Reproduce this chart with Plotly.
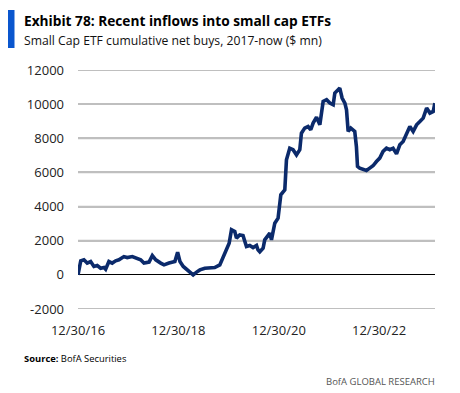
import plotly.graph_objects as go

dates = [
    "2016-12-30", "2017-01-19", "2017-02-11", "2017-03-07", "2017-04-01", "2017-04-25",
    "2017-05-19", "2017-06-13", "2017-07-07", "2017-07-19", "2017-08-12", "2017-09-05",
    "2017-09-30", "2017-10-24", "2017-11-29", "2017-12-23", "2018-01-29", "2018-03-06",
    "2018-03-31", "2018-04-24", "2018-05-31", "2018-06-24", "2018-07-19", "2018-08-24",
    "2018-09-17", "2018-10-23", "2018-12-05", "2018-12-25", "2019-01-11", "2019-02-04",
    "2019-03-12", "2019-04-17", "2019-05-12", "2019-06-05", "2019-07-11", "2019-08-16",
    "2019-09-21", "2019-10-28", "2019-11-22", "2019-12-16", "2020-01-04", "2020-01-21",
    "2020-02-14", "2020-02-26", "2020-03-21", "2020-04-14", "2020-05-09", "2020-06-02",
    "2020-06-26", "2020-07-21", "2020-08-01", "2020-08-14", "2020-09-07", "2020-09-19",
    "2020-10-26", "2020-11-07", "2020-12-01", "2020-12-25", "2021-01-14", "2021-02-12",
    "2021-02-24", "2021-03-20", "2021-04-13", "2021-05-08", "2021-06-01", "2021-06-13",
    "2021-07-07", "2021-07-31", "2021-08-20", "2021-09-06", "2021-10-01", "2021-10-25",
    "2021-11-18", "2021-12-13", "2022-01-06", "2022-01-30", "2022-02-11", "2022-03-07",
    "2022-03-19", "2022-04-05", "2022-04-25", "2022-05-07", "2022-05-19", "2022-06-07",
    "2022-07-06", "2022-07-18", "2022-07-26", "2022-08-11", "2022-09-04", "2022-09-29",
    "2022-10-23", "2022-11-16", "2022-12-11", "2023-01-04", "2023-01-28", "2023-02-22",
    "2023-03-18", "2023-04-11", "2023-05-06", "2023-05-30", "2023-06-23", "2023-07-18",
    "2023-08-11", "2023-09-04", "2023-09-29", "2023-10-23", "2023-11-16", "2023-12-11",
    "2024-01-04", "2024-01-28", "2024-02-09",
]
net_buys = [
    0, 820, 880, 690, 780, 490,
    545, 390, 430, 330, 780, 690,
    820, 880, 1070, 1015, 1070, 940,
    880, 690, 745, 1130, 880, 690,
    585, 690, 780, 1330, 780, 490,
    235, 0, 160, 290, 390, 430,
    430, 585, 1070, 1560, 1850, 2640,
    2540, 2150, 2340, 2300, 1660, 1720,
    1600, 1720, 1465, 1350, 1560, 2050,
    2440, 2050, 3030, 3320, 4690, 4980,
    6740, 7420, 7330, 7030, 7330, 8300,
    8600, 8690, 8500, 8890, 9240, 8790,
    10160, 10260, 10060, 9960, 10650, 10840,
    10940, 10360, 10060, 9670, 8400, 8600,
    8400, 7520, 6350, 6250, 6190, 6110,
    6250, 6390, 6640, 6840, 7230, 7420,
    7330, 7420, 7090, 7620, 7810, 8300,
    8690, 8400, 8790, 8980, 9180, 9770,
    9475, 9570, 10060,
]

x_tick_vals = ["2016-12-30", "2018-12-30", "2020-12-30", "2022-12-30"]
x_tick_text = ["12/30/16", "12/30/18", "12/30/20", "12/30/22"]
y_tick_vals = [-2000, 0, 2000, 4000, 6000, 8000, 10000, 12000]
y_tick_text = ["-2000", "0", "2000", "4000", "6000", "8000", "10000", "12000"]

FONT = "Open Sans"
PW, PH = 357, 239  # plot area size in px
GRID = "#BFBFBF"

shapes = [
    dict(type="line", xref="paper", yref="y", x0=0, x1=1, y0=v, y1=v,
         line=dict(color=GRID, width=1.8), layer="below")
    for v in y_tick_vals if v != 0
]
shapes.append(
    dict(type="rect", xref="paper", yref="paper",
         x0=-70.5/PW, x1=-63.5/PW, y0=1 + 60/PH, y1=1 + 22/PH,
         fillcolor="#0A56CE", line=dict(width=0), layer="above")
)

fig = go.Figure()
fig.add_trace(go.Scatter(
    x=dates, y=net_buys, mode="lines",
    line=dict(color="#0B2A6B", width=3.6),
    hoverinfo="skip", showlegend=False,
))

fig.update_layout(
    width=452, height=385,
    margin=dict(l=70, r=25, t=62, b=84),
    paper_bgcolor="white", plot_bgcolor="white",
    font=dict(family=FONT, size=12, color="#222222"),
    xaxis=dict(
        type="date",
        range=["2016-12-30", "2024-02-10"],
        tickvals=x_tick_vals, ticktext=x_tick_text,
        showgrid=False, zeroline=False, showline=False,
        ticks="", tickfont=dict(size=13, color="#222222"),
        ticklabelstandoff=12,
    ),
    yaxis=dict(
        range=[-2000, 12000],
        tickvals=y_tick_vals, ticktext=y_tick_text,
        showgrid=True, gridcolor=GRID, gridwidth=1.8,
        zeroline=True, zerolinecolor="#000000", zerolinewidth=1.3,
        showline=False, ticks="",
        tickfont=dict(size=13, color="#222222"),
        ticklabelstandoff=13,
    ),
    shapes=shapes,
    annotations=[
        dict(text="<b>Exhibit 78: Recent inflows into small cap ETFs</b>",
             xref="paper", yref="paper", x=-56/PW, y=1 + 49/PH,
             xanchor="left", yanchor="middle", showarrow=False,
             font=dict(family=FONT, size=13.7, color="#000000")),
        dict(text="Small Cap ETF cumulative net buys, 2017-now ($ mn)",
             xref="paper", yref="paper", x=-56/PW, y=1 + 30/PH,
             xanchor="left", yanchor="middle", showarrow=False,
             font=dict(family=FONT, size=12.2, color="#111111")),
        dict(text="<b>Source:</b> BofA Securities",
             xref="paper", yref="paper", x=-56/PW, y=-49/PH,
             xanchor="left", yanchor="middle", showarrow=False,
             font=dict(family=FONT, size=9.4, color="#000000")),
        dict(text="BofA GLOBAL RESEARCH",
             xref="paper", yref="paper", x=359/PW, y=-72/PH,
             xanchor="right", yanchor="middle", showarrow=False,
             font=dict(family=FONT, size=9.5, color="#555555")),
    ],
)

fig.write_html("out.html")
